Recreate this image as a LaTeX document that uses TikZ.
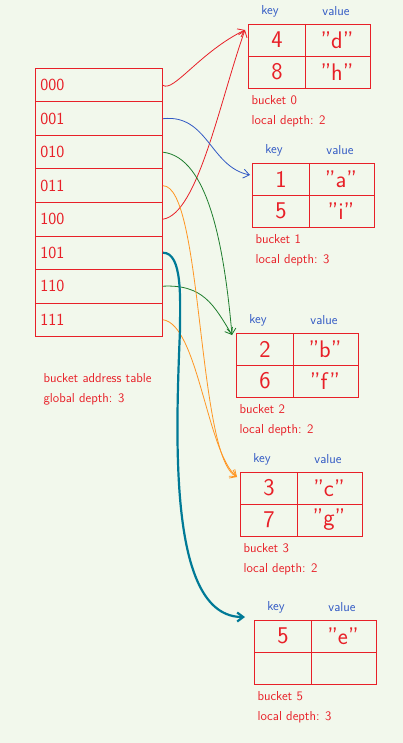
\documentclass[tikz,border=0pt]{standalone}
\usepackage{tikz}
\usetikzlibrary{calc, arrows.meta}
\definecolor{paper}{RGB}{242,248,236}
\definecolor{inkred}{RGB}{232,32,40}
\definecolor{inkblue}{RGB}{48,88,196}
\definecolor{inkgreen}{RGB}{30,125,45}
\definecolor{inkorange}{RGB}{255,150,35}
\definecolor{inkteal}{RGB}{0,122,150}
\tikzset{
	rowbox/.style={draw=inkred, line width=0.9pt, anchor=north west, minimum width=127pt, minimum height=33.5pt, text width=117pt, align=left, inner sep=4pt, text=inkred, font=\sffamily\fontsize{17}{17}\selectfont},
	bucketbox/.style={draw=inkred, line width=0.9pt, anchor=north west, minimum width=122pt, minimum height=64pt, inner sep=0pt},
	cell/.style={text=inkred, font=\sffamily\fontsize{24}{24}\selectfont},
	headlabel/.style={text=inkblue, font=\sffamily\fontsize{13}{13}\selectfont},
	caption/.style={text=inkred, anchor=north west, align=left, font=\sffamily\fontsize{13}{20}\selectfont},
	link/.style={line width=0.8pt, -{Straight Barb[length=6pt,width=9pt]}}
}
\newcommand{\bucket}[9]{
	\node[bucketbox] (#1) at (#2,#3) {};
	\draw[inkred, line width=0.9pt] ($ (#1.north west)+(57,0) $) -- ($ (#1.south west)+(57,0) $);
	\draw[inkred, line width=0.9pt] (#1.west) -- (#1.east);
	\node[cell] (#1k1) at ($ (#1.north west)+(29,16) $) {#4};
	\node[cell] (#1v1) at ($ (#1.north west)+(89,16) $) {#5};
	\node[cell] (#1k2) at ($ (#1.north west)+(29,48) $) {#6};
	\node[cell] (#1v2) at ($ (#1.north west)+(89,48) $) {#7};
	\node[headlabel] (#1key) at ($ (#1.north west)+(22,-13) $) {key};
	\node[headlabel] (#1value) at ($ (#1.north west)+(88,-13) $) {value};
	\node[caption] (#1cap) at ($ (#1.south west)+(0,3) $) {bucket #8\\local depth: #9};
}

\begin{document}
\begin{tikzpicture}[x=1pt, y=-1pt]
	\fill[paper] (0,0) rectangle (403,743);
	\useasboundingbox (0,0) rectangle (403,743);
	% bucket address table
	\foreach \code [count=\i from 0] in {000,001,010,011,100,101,110,111}
		\node[rowbox] (r\code) at (35,{68+33.5*\i}) {\code};
	\node[caption] (tablecap) at (40,370) {bucket address table\\global depth: 3};
	% buckets
	\bucket{b0}{248}{24}{4}{"d"}{8}{"h"}{0}{2}
	\bucket{b1}{252}{163}{1}{"a"}{5}{"i"}{1}{3}
	\bucket{b2}{236}{333}{2}{"b"}{6}{"f"}{2}{2}
	\bucket{b3}{240}{472}{3}{"c"}{7}{"g"}{3}{2}
	\bucket{b5}{254}{620}{5}{"e"}{}{}{5}{3}
	\coordinate (in0) at ($ (b0.north west)+(-3,6) $);
	\coordinate (in1) at ($ (b1.north west)+(-2,12) $);
	\coordinate (in2) at ($ (b2.north west)+(-4,2) $);
	\coordinate (in3) at ($ (b3.north west)+(-3,5) $);
	\coordinate (in5) at ($ (b5.north west)+(-9,-3) $);
	\coordinate (tealbend) at (180,330);
	% pointers
	\draw[link, inkred] (r000.east) .. controls +(10,8) and +(-45,22) .. (in0);
	\draw[link, inkred] (r100.east) .. controls +(35,-5) and +(-25,70) .. (in0);
	\draw[link, inkblue] (r001.east) .. controls +(45,-5) and +(-40,-8) .. (in1);
	\draw[link, inkgreen] (r010.east) .. controls +(45,5) and +(-8,-90) .. (in2);
	\draw[link, inkgreen] (r110.east) .. controls +(40,-2) and +(-18,-30) .. (in2);
	\draw[link, inkorange] (r011.east) .. controls +(40,0) and +(-40,-20) .. (in3);
	\draw[link, inkorange] (r111.east) .. controls +(35,5) and +(-30,-25) .. (in3);
	\draw[link, inkteal, line width=2.2pt] (r101.east) .. controls +(20,0) and +(0,-30) .. (tealbend) .. controls +(-5,120) and +(-75,0) .. (in5);
\end{tikzpicture}
\end{document}
